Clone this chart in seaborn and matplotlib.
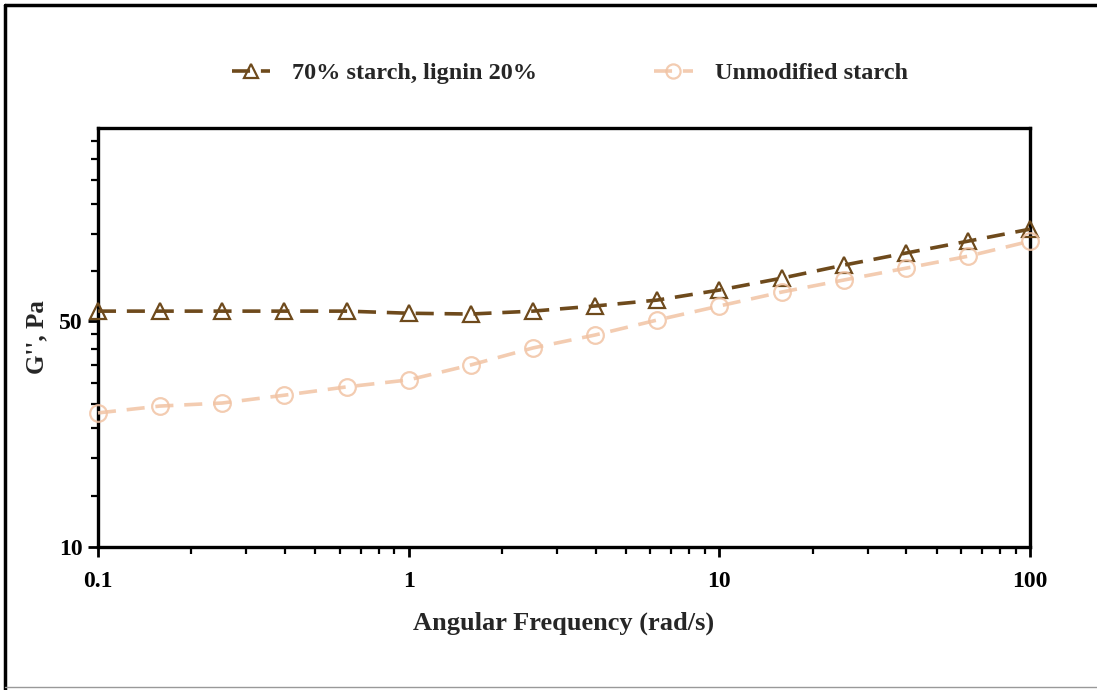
import numpy as np
import pandas as pd
import matplotlib
matplotlib.use("Agg")
import matplotlib.pyplot as plt
from matplotlib.lines import Line2D
from matplotlib.ticker import FixedLocator, FixedFormatter, NullFormatter
import seaborn as sns

# Frequency sweep (rad/s) and loss modulus G'' (Pa)
freq = [0.1, 0.158, 0.251, 0.398, 0.631, 1.0, 1.585, 2.51, 3.98, 6.31,
        10.0, 15.85, 25.1, 39.8, 63.1, 100.0]
g_lignin = [53.7, 53.7, 53.7, 53.7, 53.7, 52.9, 52.6, 53.7, 55.7, 58.1,
            62.4, 67.9, 74.5, 81.2, 88.4, 96.3]
g_unmod = [26.0, 27.3, 27.9, 29.5, 31.3, 32.9, 36.6, 41.3, 45.3, 50.4,
           55.7, 61.5, 67.0, 72.9, 79.4, 88.4]

labels = ["70% starch, lignin 20%", "Unmodified starch"]

x_major = [0.1, 1, 10, 100]
x_major_labels = ["0.1", "1", "10", "100"]
y_major = [10, 50]
y_major_labels = ["10", "50"]
y_minor = [14.4, 18.9, 23.3, 27.8, 32.2, 36.7, 41.1, 45.6,
           71.7, 93.3, 115.0, 136.7, 158.3, 180.0]

sns.set_theme(style="white")
plt.rcParams["font.family"] = ["Liberation Serif", "DejaVu Serif"]
plt.rcParams["font.weight"] = "bold"

df = pd.concat([
    pd.DataFrame({"freq": freq, "G": g_lignin, "sample": labels[0]}),
    pd.DataFrame({"freq": freq, "G": g_unmod, "sample": labels[1]}),
])

fig = plt.figure(figsize=(10.97, 6.90), dpi=100)
ax = fig.add_axes([0.0893, 0.2072, 0.8497, 0.6073])

styles = {
    labels[0]: dict(color="#6E4A1C", marker="^", alpha=1.0),
    labels[1]: dict(color="#F1C3A4", marker="o", alpha=0.85),
}
for name, sub in df.groupby("sample", sort=False):
    st = styles[name]
    sns.lineplot(data=sub, x="freq", y="G", ax=ax, color=st["color"],
                 marker=st["marker"], markersize=12, markerfacecolor="none",
                 markeredgecolor=st["color"], markeredgewidth=1.6,
                 linewidth=2.6, linestyle=(0, (5, 3)), alpha=st["alpha"],
                 label=name, clip_on=False, zorder=3)

ax.set_xscale("log")
ax.set_yscale("log")
ax.set_xlim(0.1, 100)
ax.set_ylim(10, 198)

ax.xaxis.set_major_locator(FixedLocator(x_major))
ax.xaxis.set_major_formatter(FixedFormatter(x_major_labels))
ax.xaxis.set_minor_formatter(NullFormatter())
ax.yaxis.set_major_locator(FixedLocator(y_major))
ax.yaxis.set_major_formatter(FixedFormatter(y_major_labels))
ax.yaxis.set_minor_locator(FixedLocator(y_minor))
ax.yaxis.set_minor_formatter(NullFormatter())

ax.tick_params(axis="both", which="major", direction="out", length=7, width=2,
               labelsize=17, pad=10, bottom=True, left=True, colors="black")
ax.tick_params(axis="y", which="major", pad=4)
ax.tick_params(axis="both", which="minor", direction="out", length=5, width=1.6,
               bottom=True, left=True, colors="black")
for lab in ax.get_xticklabels() + ax.get_yticklabels():
    lab.set_fontweight("bold")

for sp in ax.spines.values():
    sp.set_linewidth(2.4)
    sp.set_color("black")
    sp.set_visible(True)

ax.set_xlabel("Angular Frequency (rad/s)", fontsize=19, fontweight="bold", labelpad=14)
ax.set_ylabel("G'', Pa", fontsize=18, fontweight="bold", labelpad=8)

handles, hl = ax.get_legend_handles_labels()
ax.legend(handles, hl, loc="center", bbox_to_anchor=(0.506, 1.131), ncol=2,
          frameon=False, prop={"weight": "bold", "size": 17.5},
          handlelength=1.6, handletextpad=0.9, columnspacing=4.8,
          markerscale=0.85)

# Outer frame of the figure
fig.add_artist(Line2D([0.005, 0.005], [0.0, 0.993], transform=fig.transFigure,
                      color="black", linewidth=2.5))
fig.add_artist(Line2D([0.005, 1.0], [0.993, 0.993], transform=fig.transFigure,
                      color="black", linewidth=2.5))
fig.add_artist(Line2D([0.005, 1.0], [0.004, 0.004], transform=fig.transFigure,
                      color="#999999", linewidth=1.0))

fig.savefig("out.png", dpi=100, facecolor="white")
